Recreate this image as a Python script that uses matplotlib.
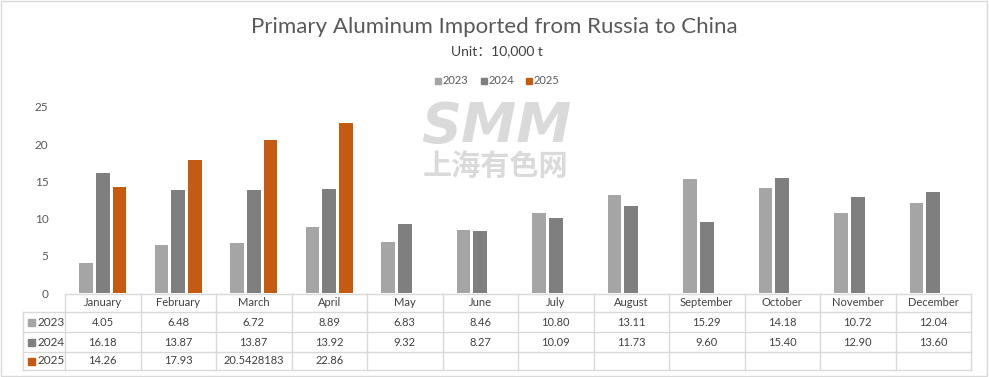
import matplotlib.pyplot as plt
from matplotlib.patches import Rectangle
from matplotlib.lines import Line2D
import numpy as np

months = ['January', 'February', 'March', 'April', 'May', 'June', 'July',
          'August', 'September', 'October', 'November', 'December']
years = ['2023', '2024', '2025']
v2023 = [4.05, 6.48, 6.72, 8.89, 6.83, 8.46, 10.80, 13.11, 15.29, 14.18, 10.72, 12.04]
v2024 = [16.18, 13.87, 13.87, 13.92, 9.32, 8.27, 10.09, 11.73, 9.60, 15.40, 12.90, 13.60]
v2025 = [14.26, 17.93, 20.5428183, 22.86, None, None, None, None, None, None, None, None]
colors = ['#A5A5A5', '#7F7F7F', '#C55A11']

W, H = 989, 377
fig = plt.figure(figsize=(W / 100, H / 100), dpi=100, facecolor='white')
plt.rcParams['font.family'] = ['Lato', 'Noto Sans CJK SC', 'DejaVu Sans']


def fx(x):
    return x / W


def fy(y):
    return 1 - y / H


# plot area in pixels
left, right, y0, y25 = 65, 971, 293, 107
ax = fig.add_axes([fx(left), fy(y0), fx(right - left), (y0 - y25) / H])
x = np.arange(len(months))
series = [v2023, v2024, v2025]
bw, step = 0.185, 0.222
for k, vals in enumerate(series):
    arr = np.array([np.nan if v is None else v for v in vals], dtype=float)
    ax.bar(x + (k - 1) * step, arr, width=bw, color=colors[k], label=years[k])
ax.set_xlim(-0.5, len(months) - 0.5)
ax.set_ylim(0, 25)
ax.set_yticks(range(0, 26, 5))
ax.tick_params(axis='y', length=0, labelsize=8.5, labelcolor='#595959', pad=12)
ax.set_xticks([])
for s in ax.spines.values():
    s.set_visible(False)

# watermark
fig.text(fx(496), fy(127), 'SMM', fontsize=40, fontweight='black', style='italic',
         color='#DADADA', ha='center', va='center', family=['DejaVu Sans'], zorder=0)
fig.text(fx(496), fy(166), '上海有色网', fontsize=21, fontweight='bold',
         color='#DADADA', ha='center', va='center', family=['Noto Sans CJK SC'], zorder=0)

# titles
fig.text(fx(494), fy(27), 'Primary Aluminum Imported from Russia to China',
         fontsize=16, color='#595959', ha='center', va='center')
fig.text(fx(497), fy(51), 'Unit：10,000 t', fontsize=10, color='#404040',
         ha='center', va='center', family=['Lato', 'Noto Sans CJK SC'])

# legend
lx = [435, 481, 526]
for k, yr in enumerate(years):
    fig.patches.append(Rectangle((fx(lx[k]), fy(84)), fx(6), 6 / H, color=colors[k],
                                 transform=fig.transFigure, figure=fig))
    fig.text(fx(lx[k] + 8), fy(81), yr, fontsize=8, color='#595959', va='center', ha='left')

# data table
grid = '#D9D9D9'
colw = (right - left) / len(months)
rows_y = [294, 312, 332, 352, 370]


def hline(y, x0, x1):
    fig.lines.append(Line2D([fx(x0), fx(x1)], [fy(y), fy(y)], color=grid, lw=1,
                            transform=fig.transFigure, figure=fig))


def vline(x, ya, yb):
    fig.lines.append(Line2D([fx(x), fx(x)], [fy(ya), fy(yb)], color=grid, lw=1,
                            transform=fig.transFigure, figure=fig))


hline(rows_y[0], left, right)
for y in rows_y[1:]:
    hline(y, 23, right)
vline(23, rows_y[1], rows_y[-1])
for i in range(len(months) + 1):
    vline(left + i * colw, rows_y[0], rows_y[-1])


def fmt(v):
    if v is None:
        return ''
    return f'{v:.2f}' if abs(v - round(v, 2)) < 1e-9 else str(v)


for i, m in enumerate(months):
    cx = left + (i + 0.5) * colw
    fig.text(fx(cx), fy((rows_y[0] + rows_y[1]) / 2), m, fontsize=8,
             color='#404040', ha='center', va='center')
    for k, vals in enumerate(series):
        cy = (rows_y[k + 1] + rows_y[k + 2]) / 2
        fig.text(fx(cx), fy(cy), fmt(vals[i]), fontsize=8, color='#404040',
                 ha='center', va='center')

for k, yr in enumerate(years):
    cy = (rows_y[k + 1] + rows_y[k + 2]) / 2
    fig.patches.append(Rectangle((fx(28), fy(cy + 3.5)), fx(7), 7 / H, color=colors[k],
                                 transform=fig.transFigure, figure=fig))
    fig.text(fx(37), fy(cy), yr, fontsize=8.5, color='#404040', ha='left', va='center')

# outer border
fig.patches.append(Rectangle((fx(1), fy(376)), fx(986), 375 / H, fill=False,
                             edgecolor=grid, lw=1, transform=fig.transFigure, figure=fig))

fig.savefig('out.png', dpi=100, facecolor='white')
